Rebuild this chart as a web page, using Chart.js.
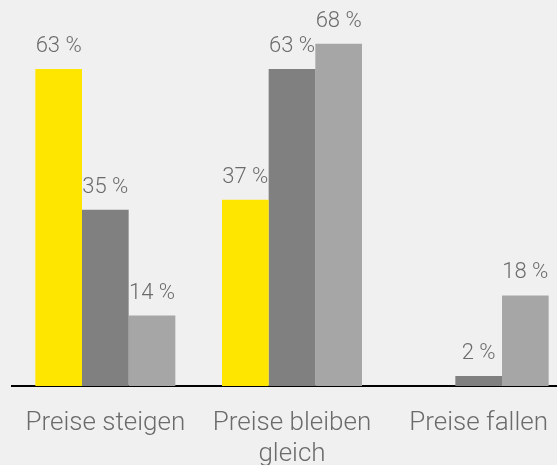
<!DOCTYPE html>
<html lang="de">
<head>
<meta charset="UTF-8">
<title>Preise</title>
<script src="https://cdn.jsdelivr.net/npm/chart.js"></script>
<style>
    html, body {
        margin: 0;
        padding: 0;
        background: #F0F0F0;
    }
    #wrap {
        width: 557px;
        height: 465px;
        overflow: hidden;
        position: relative;
    }
    canvas { display: block; }
</style>
</head>
<body>
<div id="wrap">
    <canvas id="chart" width="572" height="465"></canvas>
</div>
<script>
    const categories = [["Preise steigen"], ["Preise bleiben", "gleich"], ["Preise fallen"]];
    const seriesA = [63, 37, 0];
    const seriesB = [35, 63, 2];
    const seriesC = [14, 68, 18];
    const colors = ["#FFE600", "#808080", "#A6A6A6"];
    const textGray = "#6B6B6B";

    // Prozentwerte über den Balken
    const valueLabels = {
        id: "valueLabels",
        afterDatasetsDraw(chart) {
            const ctx = chart.ctx;
            ctx.save();
            ctx.font = "300 22px Roboto";
            ctx.fillStyle = textGray;
            ctx.textAlign = "center";
            ctx.textBaseline = "alphabetic";
            chart.data.datasets.forEach((ds, i) => {
                chart.getDatasetMeta(i).data.forEach((bar, j) => {
                    const v = ds.data[j];
                    if (!v) return;
                    ctx.fillText(v + " %", bar.x, bar.y - 17);
                });
            });
            ctx.restore();
        }
    };

    new Chart(document.getElementById("chart"), {
        type: "bar",
        data: {
            labels: categories,
            datasets: [
                { data: seriesA, backgroundColor: colors[0] },
                { data: seriesB, backgroundColor: colors[1] },
                { data: seriesC, backgroundColor: colors[2] }
            ]
        },
        options: {
            responsive: false,
            animation: false,
            layout: { padding: { left: 12, right: 0, top: 0, bottom: 0 } },
            datasets: {
                bar: { categoryPercentage: 0.75, barPercentage: 1, borderWidth: 0 }
            },
            plugins: {
                legend: { display: false },
                tooltip: { enabled: false }
            },
            scales: {
                x: {
                    grid: { display: false, drawTicks: false },
                    border: { display: true, color: "#000000", width: 2 },
                    ticks: {
                        color: textGray,
                        font: { family: "Roboto", size: 26, weight: 300 },
                        padding: 22,
                        maxRotation: 0,
                        autoSkip: false
                    },
                    afterFit(scale) { scale.height = 79; }
                },
                y: {
                    display: false,
                    min: 0,
                    max: 76.7
                }
            }
        },
        plugins: [valueLabels]
    });
</script>
</body>
</html>
